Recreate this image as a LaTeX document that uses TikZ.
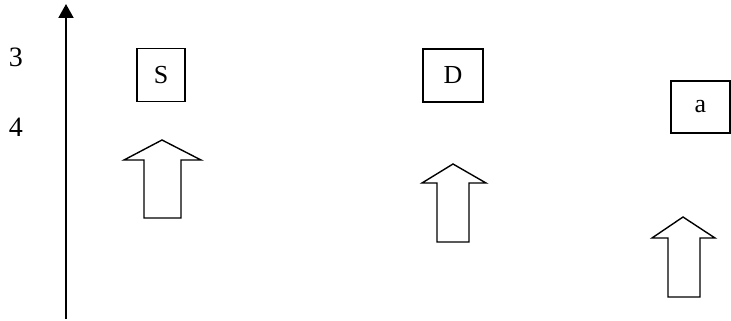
\documentclass[tikz,border=0pt]{standalone}
\usepackage{fontspec}
\setmainfont{Liberation Serif}
\usetikzlibrary{arrows.meta}
\begin{document}
\begin{tikzpicture}[x=1pt,y=-1pt,
  axisline/.style={line width=2pt,-{Triangle[length=14pt,width=15pt]}},
  lbl/.style={font=\fontsize{28}{32}\selectfont,inner sep=0pt},
  letterbox/.style={draw,line width=1.5pt,font=\fontsize{26}{30}\selectfont,inner sep=0pt},
  blockarr/.style={draw,line width=1.4pt,line join=miter,fill=white}]
\useasboundingbox (0,0) rectangle (731,321);
% axis
\coordinate (axb) at (66,319);
\coordinate (axt) at (66,4);
\draw[axisline] (axb) -- (axt);
\node[lbl] (l3) at (16,57) {3};
\node[lbl] (l4) at (16,127) {4};
% boxes
\node[letterbox,minimum width=48pt,minimum height=53pt] (S) at (161,75) {S};
\node[letterbox,minimum width=60pt,minimum height=53pt] (D) at (453,75.5) {D};
\node[letterbox,minimum width=59pt,minimum height=52pt] (A) at (700.5,107) {a};
% block arrows
\draw[blockarr] (162,140) -- (201,160) -- (181,160) -- (181,218) -- (144,218) -- (144,160) -- (124,160) -- cycle;
\draw[blockarr] (453,164) -- (486,183) -- (469,183) -- (469,242) -- (437,242) -- (437,183) -- (422,183) -- cycle;
\draw[blockarr] (683,217) -- (715,238) -- (700,238) -- (700,297) -- (668,297) -- (668,238) -- (652,238) -- cycle;
\end{tikzpicture}
\end{document}
